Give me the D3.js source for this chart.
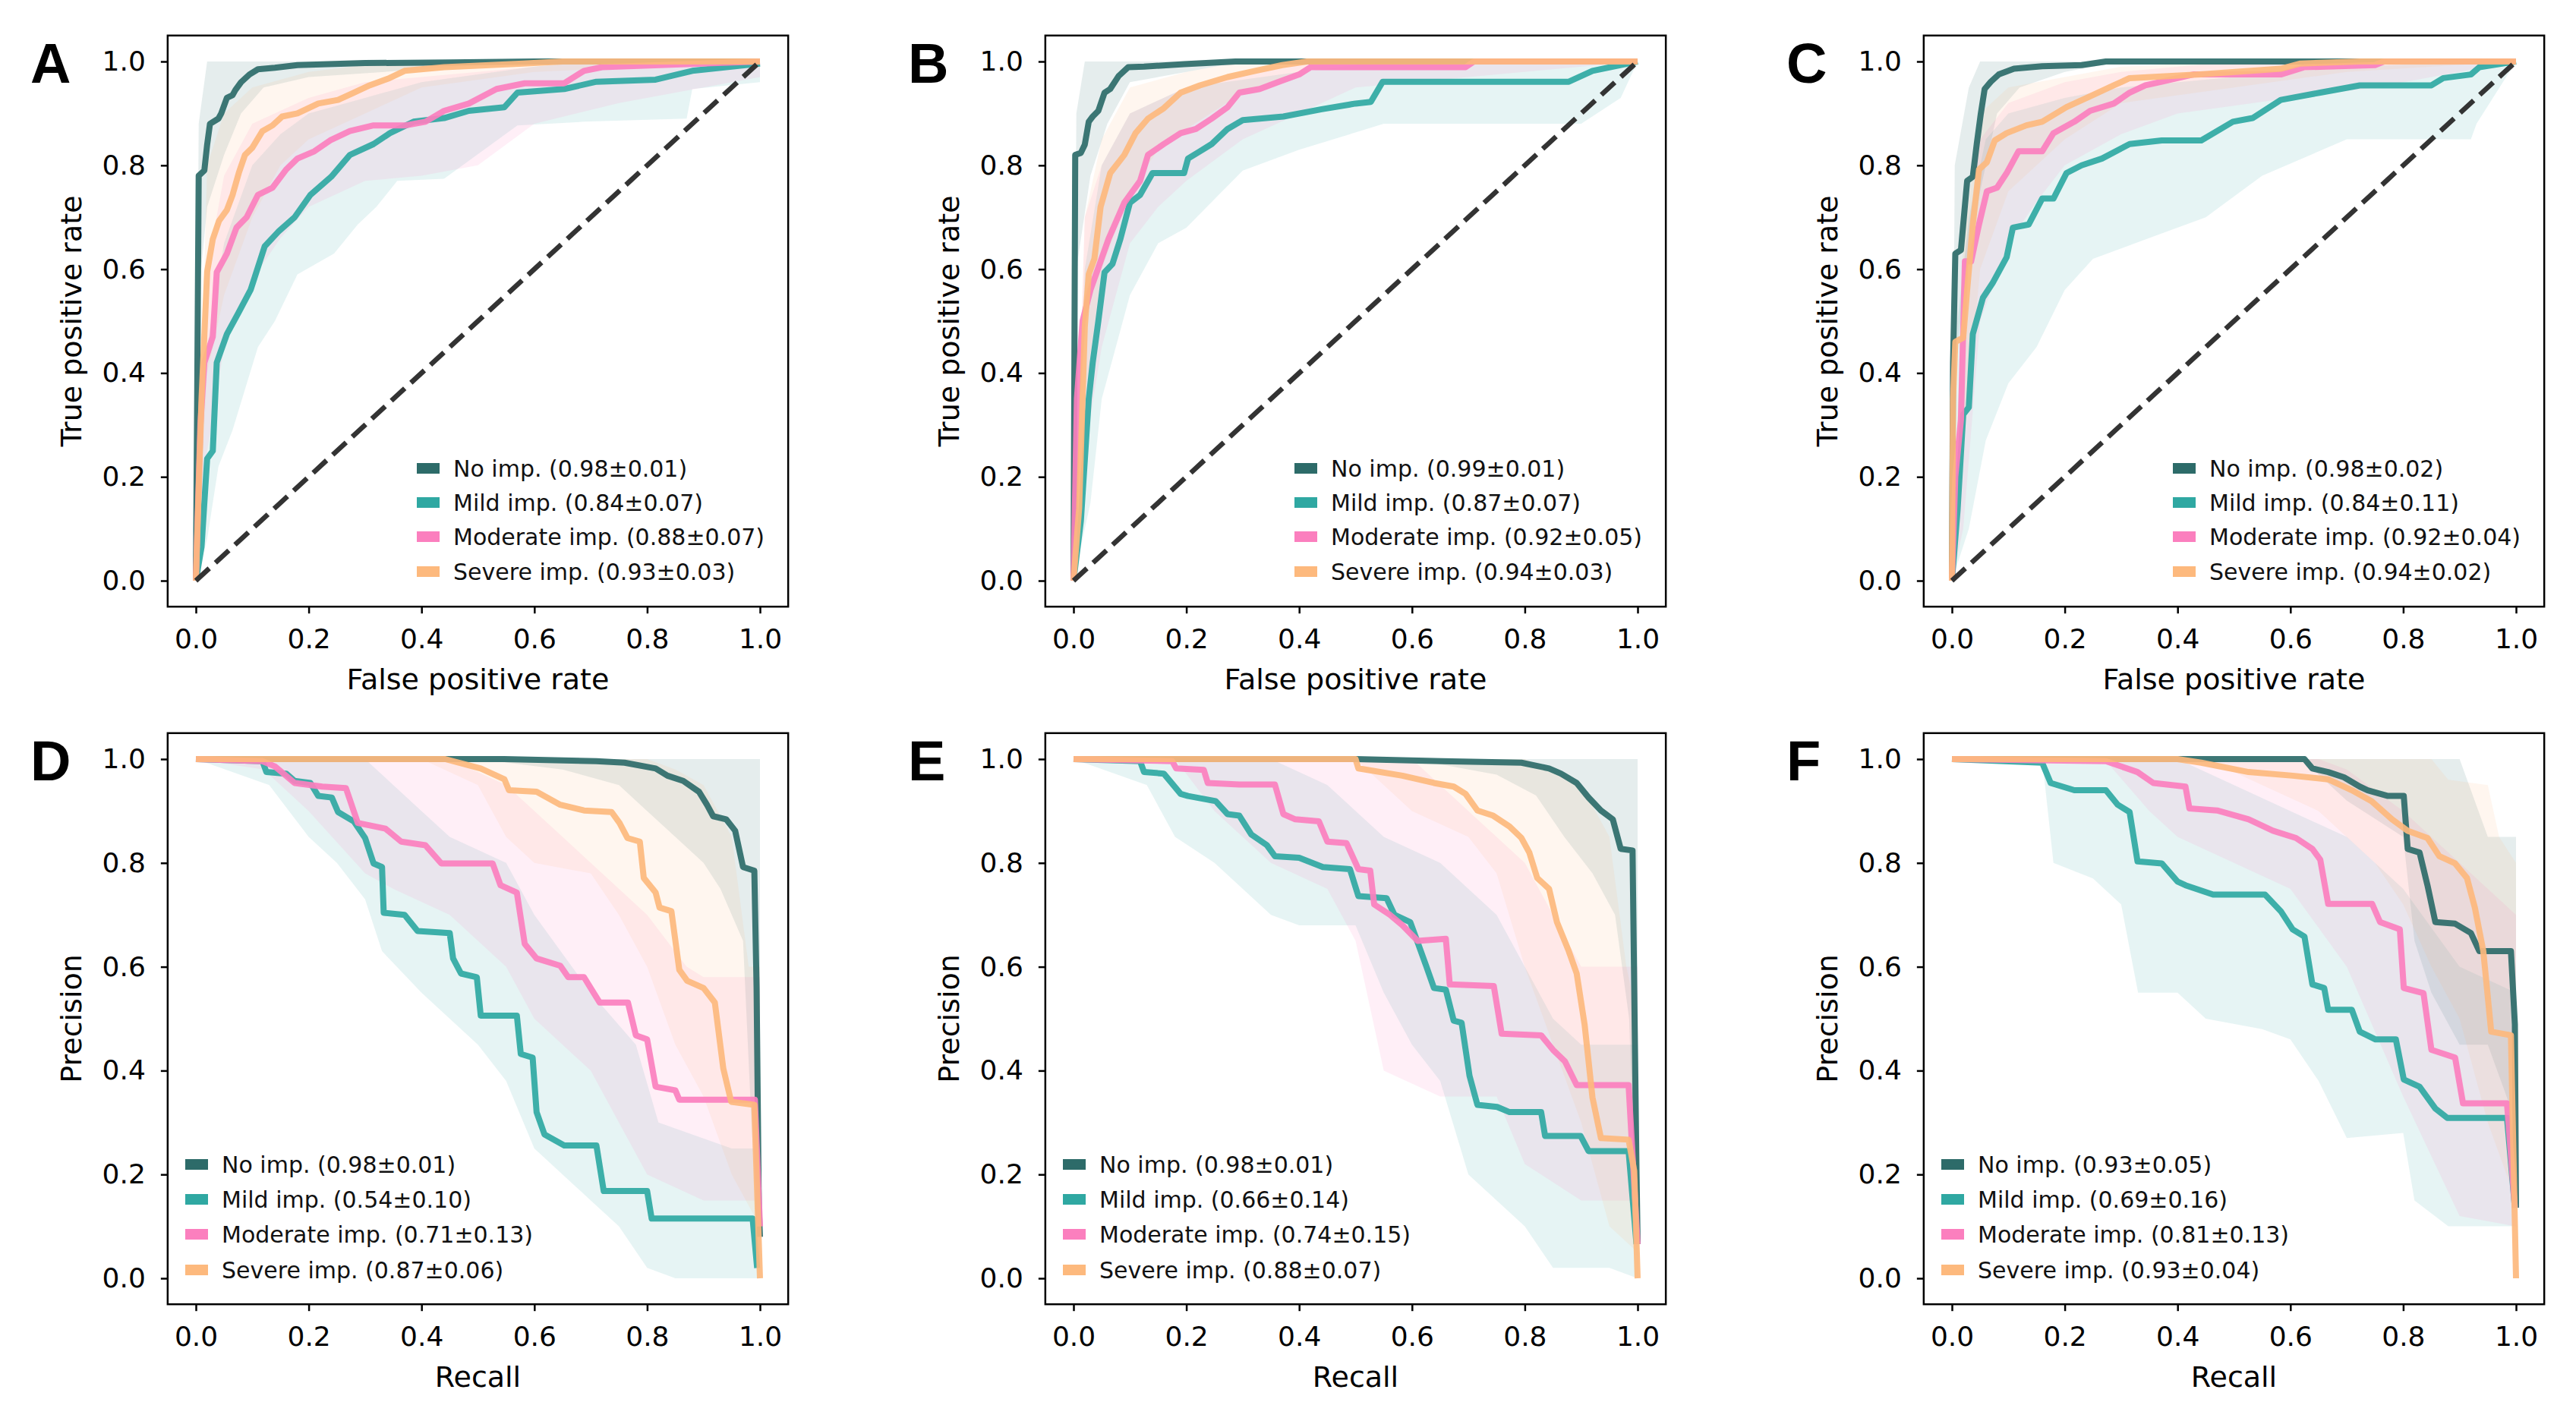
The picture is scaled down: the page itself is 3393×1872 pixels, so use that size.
<!DOCTYPE html>
<html>
<head>
<meta charset="utf-8">
<script src="https://cdn.jsdelivr.net/npm/d3@7"></script>
<style>
body { margin: 0; background: #fff; }
</style>
</head>
<body>
<div id="chart"></div>
<script>
// Paramètres généraux
const width = 3393;
const height = 1872;

const seriesNames = ["No imp.", "Mild imp.", "Moderate imp.", "Severe imp."];
const seriesColors = ["#2d6b69", "#2fa8a2", "#fb7fbe", "#fdb97d"];
const tickValues = [0, 0.2, 0.4, 0.6, 0.8, 1.0];

// Scores de la légende
const scoresA = ["0.98±0.01", "0.84±0.07", "0.88±0.07", "0.93±0.03"];
const scoresB = ["0.99±0.01", "0.87±0.07", "0.92±0.05", "0.94±0.03"];
const scoresC = ["0.98±0.02", "0.84±0.11", "0.92±0.04", "0.94±0.02"];
const scoresD = ["0.98±0.01", "0.54±0.10", "0.71±0.13", "0.87±0.06"];
const scoresE = ["0.98±0.01", "0.66±0.14", "0.74±0.15", "0.88±0.07"];
const scoresF = ["0.93±0.05", "0.69±0.16", "0.81±0.13", "0.93±0.04"];

// Courbes ROC moyennes (x = FPR, y = TPR), ordre : no, mild, moderate, severe
const lineA = [
  [[0,0],[0.002,0.3],[0.005,0.78],[0.015,0.79],[0.02,0.84],[0.025,0.88],[0.04,0.89],[0.045,0.90],[0.055,0.93],[0.065,0.935],[0.07,0.945],[0.08,0.96],[0.095,0.975],[0.11,0.985],[0.14,0.988],[0.18,0.993],[0.3,0.997],[0.45,0.998],[0.6,1],[1,1]],
  [[0,0],[0.01,0.065],[0.02,0.235],[0.03,0.25],[0.037,0.42],[0.055,0.475],[0.076,0.517],[0.097,0.56],[0.122,0.644],[0.146,0.672],[0.175,0.70],[0.203,0.743],[0.24,0.778],[0.273,0.82],[0.315,0.841],[0.344,0.862],[0.386,0.884],[0.44,0.891],[0.484,0.905],[0.547,0.912],[0.57,0.94],[0.653,0.947],[0.71,0.961],[0.815,0.965],[0.88,0.982],[1,0.996]],
  [[0,0],[0.008,0.3],[0.015,0.42],[0.03,0.47],[0.037,0.594],[0.055,0.63],[0.072,0.68],[0.09,0.70],[0.11,0.743],[0.136,0.757],[0.16,0.792],[0.18,0.813],[0.21,0.827],[0.238,0.848],[0.273,0.866],[0.315,0.877],[0.372,0.877],[0.407,0.884],[0.44,0.905],[0.484,0.919],[0.533,0.947],[0.583,0.958],[0.653,0.958],[0.688,0.982],[0.72,0.989],[1,1]],
  [[0,0],[0.01,0.35],[0.02,0.595],[0.03,0.658],[0.041,0.693],[0.055,0.714],[0.065,0.743],[0.076,0.785],[0.087,0.82],[0.10,0.834],[0.118,0.866],[0.136,0.877],[0.153,0.894],[0.18,0.90],[0.217,0.919],[0.252,0.926],[0.28,0.94],[0.308,0.954],[0.343,0.968],[0.37,0.982],[0.44,0.989],[0.58,0.996],[0.65,1],[1,1]]
];
const lowA = [
  [[0,0],[0.005,0.55],[0.02,0.72],[0.05,0.82],[0.08,0.9],[0.12,0.95],[0.2,0.97],[0.4,0.985],[0.6,1],[1,1]],
  [[0,0],[0.02,0.08],[0.04,0.22],[0.065,0.29],[0.11,0.45],[0.14,0.5],[0.18,0.59],[0.245,0.63],[0.287,0.686],[0.32,0.72],[0.357,0.77],[0.44,0.774],[0.57,0.877],[0.688,0.884],[0.87,0.89],[0.88,0.947],[1,0.96]],
  [[0,0],[0.02,0.25],[0.05,0.45],[0.1,0.58],[0.15,0.66],[0.2,0.72],[0.3,0.77],[0.4,0.78],[0.5,0.8],[0.6,0.88],[0.75,0.92],[1,0.97]],
  [[0,0],[0.02,0.4],[0.05,0.55],[0.1,0.7],[0.15,0.8],[0.2,0.85],[0.3,0.9],[0.4,0.95],[0.6,0.98],[1,1]]
];
const highA = [
  [[0,0],[0.005,0.88],[0.02,1],[1,1]],
  [[0,0],[0.02,0.45],[0.05,0.65],[0.1,0.8],[0.15,0.86],[0.2,0.9],[0.3,0.93],[0.4,0.96],[0.6,0.99],[0.7,1],[1,1]],
  [[0,0],[0.02,0.6],[0.05,0.78],[0.1,0.88],[0.2,0.93],[0.3,0.96],[0.5,0.98],[0.7,1],[1,1]],
  [[0,0],[0.02,0.8],[0.05,0.9],[0.1,0.95],[0.2,0.98],[0.35,1],[1,1]]
];

const lineB = [
  [[0,0],[0.003,0.82],[0.013,0.824],[0.02,0.84],[0.027,0.884],[0.034,0.894],[0.044,0.905],[0.055,0.94],[0.065,0.947],[0.08,0.972],[0.097,0.989],[0.125,0.99],[0.196,0.995],[0.287,1],[1,1]],
  [[0,0],[0.013,0.115],[0.027,0.35],[0.034,0.42],[0.044,0.50],[0.055,0.594],[0.069,0.61],[0.083,0.658],[0.1,0.728],[0.118,0.743],[0.14,0.785],[0.196,0.785],[0.203,0.813],[0.224,0.827],[0.245,0.841],[0.273,0.87],[0.3,0.887],[0.372,0.894],[0.44,0.908],[0.5,0.919],[0.527,0.922],[0.548,0.961],[0.878,0.961],[0.92,0.982],[1,1]],
  [[0,0],[0.006,0.35],[0.016,0.5],[0.03,0.56],[0.048,0.615],[0.062,0.658],[0.09,0.728],[0.118,0.77],[0.132,0.82],[0.16,0.841],[0.19,0.862],[0.217,0.87],[0.245,0.89],[0.273,0.912],[0.294,0.94],[0.33,0.947],[0.364,0.961],[0.4,0.975],[0.42,0.989],[0.695,0.989],[0.71,1],[1,1]],
  [[0,0],[0.01,0.14],[0.02,0.49],[0.027,0.59],[0.037,0.62],[0.048,0.72],[0.065,0.785],[0.09,0.82],[0.11,0.862],[0.132,0.89],[0.16,0.91],[0.19,0.94],[0.224,0.954],[0.273,0.97],[0.322,0.982],[0.37,0.993],[0.414,1],[1,1]]
];
const lowB = [
  [[0,0],[0.005,0.6],[0.03,0.78],[0.06,0.88],[0.1,0.96],[0.2,0.98],[0.3,1],[1,1]],
  [[0,0],[0.03,0.15],[0.05,0.35],[0.1,0.55],[0.15,0.65],[0.2,0.68],[0.3,0.79],[0.4,0.83],[0.55,0.88],[0.9,0.88],[0.97,0.93],[1,1]],
  [[0,0],[0.02,0.25],[0.05,0.45],[0.1,0.65],[0.15,0.72],[0.2,0.77],[0.3,0.85],[0.4,0.9],[0.5,0.95],[0.7,0.97],[1,1]],
  [[0,0],[0.02,0.35],[0.05,0.6],[0.1,0.75],[0.15,0.83],[0.2,0.87],[0.3,0.94],[0.4,0.98],[0.5,1],[1,1]]
];
const highB = [
  [[0,0],[0.005,0.9],[0.02,1],[1,1]],
  [[0,0],[0.02,0.6],[0.05,0.8],[0.1,0.9],[0.2,0.95],[0.4,0.98],[0.55,1],[1,1]],
  [[0,0],[0.02,0.7],[0.05,0.8],[0.1,0.9],[0.2,0.95],[0.3,0.98],[0.4,1],[1,1]],
  [[0,0],[0.02,0.7],[0.05,0.85],[0.1,0.95],[0.2,0.98],[0.3,1],[1,1]]
];

const lineC = [
  [[0,0],[0.002,0.42],[0.006,0.63],[0.016,0.637],[0.02,0.686],[0.027,0.77],[0.037,0.778],[0.044,0.841],[0.051,0.898],[0.058,0.947],[0.069,0.961],[0.083,0.975],[0.11,0.986],[0.16,0.991],[0.23,0.993],[0.273,1],[1,1]],
  [[0,0],[0.01,0.136],[0.02,0.32],[0.03,0.334],[0.037,0.475],[0.055,0.545],[0.072,0.573],[0.097,0.623],[0.108,0.68],[0.136,0.686],[0.16,0.736],[0.18,0.736],[0.203,0.785],[0.23,0.80],[0.266,0.813],[0.315,0.841],[0.372,0.848],[0.442,0.848],[0.498,0.884],[0.533,0.891],[0.583,0.926],[0.653,0.94],[0.723,0.954],[0.85,0.954],[0.871,0.968],[0.92,0.975],[0.935,0.989],[1,1]],
  [[0,0],[0.006,0.2],[0.016,0.31],[0.023,0.615],[0.034,0.615],[0.048,0.686],[0.062,0.75],[0.08,0.757],[0.097,0.785],[0.118,0.827],[0.16,0.827],[0.18,0.862],[0.217,0.884],[0.245,0.905],[0.287,0.919],[0.315,0.94],[0.343,0.954],[0.372,0.961],[0.428,0.975],[0.583,0.975],[0.625,0.989],[0.75,0.993],[0.766,1],[1,1]],
  [[0,0],[0.002,0.35],[0.006,0.46],[0.02,0.468],[0.027,0.56],[0.037,0.686],[0.048,0.792],[0.062,0.806],[0.076,0.848],[0.097,0.862],[0.132,0.877],[0.16,0.884],[0.203,0.912],[0.245,0.933],[0.287,0.954],[0.315,0.968],[0.44,0.975],[0.583,0.986],[0.618,0.996],[0.723,1],[1,1]]
];
const lowC = [
  [[0,0],[0.005,0.4],[0.02,0.55],[0.05,0.75],[0.08,0.9],[0.12,0.95],[0.2,0.98],[0.3,1],[1,1]],
  [[0,0],[0.03,0.1],[0.06,0.27],[0.1,0.38],[0.15,0.45],[0.2,0.56],[0.25,0.62],[0.35,0.66],[0.45,0.7],[0.55,0.78],[0.7,0.85],[0.92,0.85],[0.93,0.88],[1,1]],
  [[0,0],[0.02,0.1],[0.05,0.5],[0.1,0.65],[0.15,0.73],[0.2,0.8],[0.3,0.86],[0.4,0.9],[0.6,0.93],[0.75,0.95],[1,1]],
  [[0,0],[0.02,0.25],[0.05,0.6],[0.1,0.75],[0.2,0.85],[0.3,0.92],[0.5,0.95],[0.7,0.98],[1,1]]
];
const highC = [
  [[0,0],[0.005,0.8],[0.03,0.95],[0.05,1],[1,1]],
  [[0,0],[0.01,0.5],[0.03,0.7],[0.06,0.85],[0.1,0.9],[0.2,0.93],[0.3,0.95],[0.5,0.97],[0.7,0.99],[0.95,1],[1,1]],
  [[0,0],[0.02,0.6],[0.05,0.85],[0.1,0.92],[0.2,0.96],[0.3,0.98],[0.5,1],[1,1]],
  [[0,0],[0.02,0.65],[0.05,0.9],[0.1,0.95],[0.2,0.97],[0.3,0.99],[0.5,1],[1,1]]
];

// Courbes précision-rappel moyennes (x = recall, y = precision)
const lineD = [
  [[0,1],[0.547,1],[0.71,0.996],[0.76,0.993],[0.815,0.982],[0.836,0.968],[0.864,0.958],[0.892,0.937],[0.906,0.912],[0.917,0.89],[0.94,0.884],[0.956,0.862],[0.97,0.792],[0.99,0.785],[0.994,0.56],[0.998,0.136],[1,0.08]],
  [[0,1],[0.118,0.996],[0.125,0.975],[0.16,0.972],[0.175,0.958],[0.203,0.954],[0.217,0.929],[0.241,0.926],[0.252,0.898],[0.28,0.88],[0.3,0.848],[0.315,0.799],[0.33,0.792],[0.333,0.704],[0.37,0.70],[0.393,0.669],[0.45,0.665],[0.456,0.616],[0.47,0.587],[0.498,0.58],[0.505,0.506],[0.569,0.506],[0.576,0.432],[0.597,0.425],[0.604,0.32],[0.618,0.277],[0.653,0.256],[0.71,0.256],[0.723,0.168],[0.80,0.168],[0.808,0.115],[0.987,0.115],[0.995,0.02]],
  [[0,1],[0.118,0.996],[0.14,0.986],[0.175,0.954],[0.224,0.947],[0.266,0.944],[0.287,0.877],[0.336,0.866],[0.364,0.841],[0.407,0.834],[0.435,0.799],[0.526,0.799],[0.54,0.757],[0.569,0.743],[0.583,0.644],[0.604,0.616],[0.646,0.602],[0.66,0.58],[0.688,0.58],[0.716,0.531],[0.766,0.531],[0.78,0.468],[0.8,0.46],[0.815,0.369],[0.85,0.362],[0.857,0.344],[0.991,0.344],[1,0.1]],
  [[0,1],[0.442,1],[0.505,0.982],[0.547,0.961],[0.555,0.94],[0.604,0.937],[0.646,0.912],[0.688,0.901],[0.737,0.898],[0.751,0.877],[0.765,0.848],[0.787,0.841],[0.794,0.771],[0.815,0.743],[0.822,0.714],[0.843,0.707],[0.857,0.594],[0.871,0.573],[0.90,0.559],[0.92,0.531],[0.935,0.404],[0.949,0.34],[0.99,0.334],[1,0]]
];
const lowD = [
  [[0,1],[0.5,1],[0.65,0.98],[0.75,0.95],[0.8,0.9],[0.85,0.85],[0.9,0.8],[0.93,0.75],[0.97,0.65],[0.985,0.3],[1,0]],
  [[0,1],[0.13,0.95],[0.2,0.85],[0.25,0.8],[0.3,0.73],[0.33,0.63],[0.4,0.55],[0.45,0.5],[0.5,0.45],[0.55,0.38],[0.6,0.25],[0.65,0.2],[0.7,0.15],[0.75,0.1],[0.8,0.02],[0.85,0],[1,0]],
  [[0,1],[0.12,0.98],[0.2,0.9],[0.3,0.78],[0.35,0.75],[0.45,0.7],[0.55,0.6],[0.6,0.5],[0.7,0.4],[0.8,0.2],[0.9,0.15],[1,0.15]],
  [[0,1],[0.4,1],[0.5,0.95],[0.55,0.85],[0.6,0.8],[0.7,0.78],[0.75,0.7],[0.8,0.6],[0.85,0.45],[0.9,0.35],[0.95,0.2],[1,0.1]]
];
const highD = [
  [[0,1],[1,1]],
  [[0,1],[0.3,1],[0.35,0.95],[0.4,0.9],[0.45,0.85],[0.55,0.8],[0.6,0.7],[0.7,0.55],[0.78,0.45],[0.82,0.3],[0.95,0.25],[1,0.25]],
  [[0,1],[0.45,1],[0.55,0.95],[0.65,0.85],[0.75,0.75],[0.8,0.7],[0.87,0.6],[0.9,0.58],[1,0.58]],
  [[0,1],[0.8,1],[0.85,0.98],[0.9,0.95],[0.95,0.85],[0.98,0.6],[1,0.6]]
];

const lineE = [
  [[0,1],[0.5,1],[0.653,0.996],[0.794,0.993],[0.843,0.982],[0.864,0.972],[0.892,0.954],[0.913,0.926],[0.935,0.901],[0.956,0.884],[0.97,0.827],[0.991,0.824],[0.994,0.56],[0.998,0.207],[1,0.066]],
  [[0,1],[0.118,0.996],[0.125,0.975],[0.16,0.972],[0.19,0.933],[0.203,0.929],[0.252,0.919],[0.273,0.894],[0.294,0.891],[0.315,0.855],[0.343,0.834],[0.357,0.813],[0.4,0.81],[0.442,0.792],[0.49,0.788],[0.505,0.736],[0.555,0.732],[0.569,0.70],[0.597,0.686],[0.61,0.647],[0.625,0.602],[0.639,0.559],[0.66,0.556],[0.674,0.496],[0.688,0.492],[0.702,0.39],[0.716,0.334],[0.751,0.33],[0.773,0.32],[0.829,0.32],[0.836,0.274],[0.899,0.274],[0.913,0.245],[0.984,0.245],[0.998,0.066]],
  [[0,1],[0.175,0.996],[0.182,0.982],[0.231,0.979],[0.238,0.954],[0.294,0.951],[0.357,0.951],[0.372,0.894],[0.393,0.884],[0.435,0.88],[0.45,0.841],[0.484,0.838],[0.505,0.788],[0.526,0.785],[0.533,0.72],[0.561,0.70],[0.583,0.68],[0.61,0.65],[0.66,0.654],[0.667,0.566],[0.745,0.563],[0.759,0.471],[0.829,0.468],[0.85,0.44],[0.871,0.418],[0.892,0.372],[0.984,0.372],[1,0.066]],
  [[0,1],[0.5,1],[0.505,0.982],[0.583,0.968],[0.639,0.954],[0.674,0.947],[0.695,0.933],[0.716,0.901],[0.744,0.891],[0.773,0.87],[0.794,0.848],[0.808,0.82],[0.822,0.771],[0.843,0.75],[0.857,0.686],[0.878,0.63],[0.892,0.587],[0.906,0.489],[0.92,0.348],[0.935,0.27],[0.984,0.267],[0.994,0.207],[1,0]]
];
const lowE = [
  [[0,1],[0.6,1],[0.75,0.97],[0.82,0.93],[0.87,0.85],[0.92,0.78],[0.96,0.7],[0.985,0.5],[1,0]],
  [[0,1],[0.13,0.95],[0.18,0.85],[0.25,0.8],[0.3,0.75],[0.35,0.7],[0.4,0.68],[0.5,0.68],[0.55,0.55],[0.6,0.45],[0.65,0.38],[0.7,0.2],[0.8,0.1],[0.85,0.02],[0.95,0.02],[1,0]],
  [[0,1],[0.18,1],[0.25,0.9],[0.35,0.8],[0.45,0.75],[0.5,0.65],[0.55,0.4],[0.65,0.35],[0.75,0.35],[0.8,0.22],[0.9,0.15],[1,0.15]],
  [[0,1],[0.5,1],[0.6,0.9],[0.7,0.85],[0.75,0.78],[0.8,0.6],[0.85,0.45],[0.9,0.3],[0.95,0.1],[1,0.05]]
];
const highE = [
  [[0,1],[1,1]],
  [[0,1],[0.35,1],[0.45,0.95],[0.55,0.85],[0.65,0.8],[0.75,0.7],[0.85,0.5],[0.9,0.45],[1,0.45]],
  [[0,1],[0.6,1],[0.7,0.9],[0.8,0.8],[0.9,0.6],[1,0.6]],
  [[0,1],[0.8,1],[0.9,0.95],[0.95,0.85],[0.98,0.6],[1,0.5]]
];

const lineF = [
  [[0,1],[0.625,1],[0.639,0.982],[0.667,0.975],[0.695,0.965],[0.723,0.947],[0.737,0.94],[0.773,0.929],[0.801,0.929],[0.808,0.827],[0.829,0.82],[0.843,0.757],[0.857,0.686],[0.892,0.683],[0.92,0.665],[0.935,0.63],[0.991,0.63],[0.998,0.489],[1,0.136]],
  [[0,1],[0.16,0.993],[0.175,0.954],[0.217,0.94],[0.273,0.94],[0.294,0.912],[0.315,0.898],[0.329,0.803],[0.372,0.799],[0.4,0.764],[0.414,0.757],[0.463,0.739],[0.555,0.739],[0.583,0.707],[0.604,0.672],[0.625,0.658],[0.639,0.566],[0.66,0.559],[0.667,0.517],[0.709,0.517],[0.723,0.475],[0.751,0.46],[0.787,0.46],[0.801,0.383],[0.829,0.369],[0.857,0.327],[0.878,0.309],[0.984,0.309],[0.998,0.136]],
  [[0,1],[0.273,0.996],[0.329,0.975],[0.357,0.954],[0.414,0.947],[0.421,0.905],[0.47,0.901],[0.526,0.884],[0.569,0.862],[0.61,0.848],[0.639,0.827],[0.653,0.806],[0.667,0.721],[0.745,0.721],[0.759,0.686],[0.794,0.672],[0.801,0.559],[0.836,0.549],[0.85,0.44],[0.892,0.425],[0.906,0.337],[0.984,0.337],[0.998,0.136]],
  [[0,1],[0.4,1],[0.442,0.993],[0.526,0.975],[0.604,0.968],[0.667,0.961],[0.709,0.94],[0.744,0.919],[0.78,0.884],[0.808,0.862],[0.843,0.848],[0.864,0.813],[0.892,0.799],[0.913,0.771],[0.927,0.714],[0.942,0.63],[0.956,0.475],[0.991,0.468],[1,0]]
];
const lowF = [
  [[0,1],[0.62,1],[0.7,0.92],[0.8,0.85],[0.82,0.65],[0.85,0.55],[0.9,0.45],[0.95,0.45],[1,0.3]],
  [[0,1],[0.16,1],[0.18,0.8],[0.25,0.77],[0.3,0.72],[0.33,0.55],[0.4,0.55],[0.45,0.5],[0.55,0.48],[0.6,0.46],[0.65,0.38],[0.7,0.27],[0.8,0.28],[0.82,0.15],[0.88,0.1],[1,0.1]],
  [[0,1],[0.27,1],[0.35,0.9],[0.4,0.85],[0.5,0.8],[0.6,0.75],[0.7,0.6],[0.8,0.35],[0.9,0.12],[1,0.1]],
  [[0,1],[0.45,1],[0.55,0.95],[0.65,0.9],[0.75,0.8],[0.8,0.72],[0.85,0.6],[0.9,0.5],[0.95,0.3],[1,0.15]]
];
const highF = [
  [[0,1],[0.9,1],[0.95,0.85],[1,0.85]],
  [[0,1],[0.4,1],[0.5,0.95],[0.6,0.9],[0.7,0.85],[0.8,0.75],[0.9,0.6],[1,0.55]],
  [[0,1],[0.65,1],[0.7,0.98],[0.8,0.9],[0.9,0.8],[1,0.7]],
  [[0,1],[0.85,1],[0.88,0.96],[0.95,0.95],[0.97,0.85],[1,0.8]]
];

// Position des panneaux (origine des données en pixels)
const colX = [258, 1414, 2571];
const rowY = [81, 1000];
const plotW = 743;
const plotH = 684;

const panels = [
  {letter: "A", kind: "roc", col: 0, row: 0, lines: lineA, lows: lowA, highs: highA, scores: scoresA},
  {letter: "B", kind: "roc", col: 1, row: 0, lines: lineB, lows: lowB, highs: highB, scores: scoresB},
  {letter: "C", kind: "roc", col: 2, row: 0, lines: lineC, lows: lowC, highs: highC, scores: scoresC},
  {letter: "D", kind: "pr", col: 0, row: 1, lines: lineD, lows: lowD, highs: highD, scores: scoresD},
  {letter: "E", kind: "pr", col: 1, row: 1, lines: lineE, lows: lowE, highs: highE, scores: scoresE},
  {letter: "F", kind: "pr", col: 2, row: 1, lines: lineF, lows: lowF, highs: highF, scores: scoresF}
];

const font = "'DejaVu Sans', sans-serif";

const svg = d3.select("#chart")
  .append("svg")
  .attr("width", width)
  .attr("height", height)
  .style("background", "#fff");

function drawPanel(p) {
  const x0 = colX[p.col];
  const y1 = rowY[p.row];

  const x = d3.scaleLinear().domain([0, 1]).range([x0, x0 + plotW]);
  const y = d3.scaleLinear().domain([0, 1]).range([y1 + plotH, y1]);

  const g = svg.append("g");
  const line = d3.line().x(d => x(d[0])).y(d => y(d[1]));

  // Bandes (moyenne ± écart-type)
  p.highs.forEach((hi, i) => {
    const poly = hi.concat(p.lows[i].slice().reverse());
    g.append("path")
      .attr("d", line(poly) + "Z")
      .attr("fill", seriesColors[i])
      .attr("fill-opacity", 0.12)
      .attr("stroke", "none");
  });

  // Courbes moyennes
  p.lines.forEach((pts, i) => {
    g.append("path")
      .attr("d", line(pts))
      .attr("fill", "none")
      .attr("stroke", seriesColors[i])
      .attr("stroke-opacity", 0.92)
      .attr("stroke-width", 8)
      .attr("stroke-linejoin", "round");
  });

  // Diagonale pour les ROC
  if (p.kind === "roc") {
    g.append("path")
      .attr("d", line([[0, 0], [1, 1]]))
      .attr("stroke", "#333")
      .attr("stroke-width", 6.5)
      .attr("stroke-dasharray", "24,11");
  }

  // Cadre
  const left = x(-0.05), right = x(1.05), top = y(1.05), bottom = y(-0.05);
  g.append("rect")
    .attr("x", left).attr("y", top)
    .attr("width", right - left).attr("height", bottom - top)
    .attr("fill", "none")
    .attr("stroke", "#000")
    .attr("stroke-width", 2.5);

  // Axes
  const fmt = d3.format(".1f");
  const ax = g.append("g")
    .attr("transform", `translate(0, ${bottom})`)
    .call(d3.axisBottom(x).tickValues(tickValues).tickFormat(fmt).tickSize(9).tickPadding(20))
    .call(a => a.select(".domain").remove());
  const ay = g.append("g")
    .attr("transform", `translate(${left}, 0)`)
    .call(d3.axisLeft(y).tickValues(tickValues).tickFormat(fmt).tickSize(9).tickPadding(20))
    .call(a => a.select(".domain").remove());
  [ax, ay].forEach(a => {
    a.selectAll("line").attr("stroke", "#000").attr("stroke-width", 2.5);
    a.selectAll("text").attr("fill", "#000").style("font-family", font).style("font-size", "36px");
  });

  // Titres des axes
  const xTitle = p.kind === "roc" ? "False positive rate" : "Recall";
  const yTitle = p.kind === "roc" ? "True positive rate" : "Precision";
  g.append("text")
    .attr("x", x(0.5)).attr("y", y(0) + 143)
    .attr("text-anchor", "middle")
    .style("font-family", font).style("font-size", "38px")
    .text(xTitle);
  g.append("text")
    .attr("transform", `translate(${x0 - 151}, ${y(0.5)}) rotate(-90)`)
    .attr("text-anchor", "middle")
    .style("font-family", font).style("font-size", "38px")
    .text(yTitle);

  // Lettre du panneau
  g.append("text")
    .attr("x", x0 - 218).attr("y", y1 + 28)
    .style("font-family", "'Liberation Sans', Arial, sans-serif")
    .style("font-weight", "bold")
    .style("font-size", "74px")
    .text(p.letter);

  // Légende
  const handleX = p.kind === "roc" ? x0 + 291 : x0 - 14;
  const offsets = p.kind === "roc" ? [148, 103, 58, 12] : [150, 104, 58, 11];
  const legend = g.append("g");
  seriesNames.forEach((name, i) => {
    const cy = y(0) - offsets[i];
    legend.append("rect")
      .attr("x", handleX).attr("y", cy - 7)
      .attr("width", 30).attr("height", 14)
      .attr("fill", seriesColors[i]);
    legend.append("text")
      .attr("x", handleX + 48).attr("y", cy)
      .attr("dy", "0.35em")
      .style("font-family", font).style("font-size", "30px")
      .attr("fill", "#111")
      .text(`${name} (${p.scores[i]})`);
  });
}

panels.forEach(drawPanel);
</script>
</body>
</html>
